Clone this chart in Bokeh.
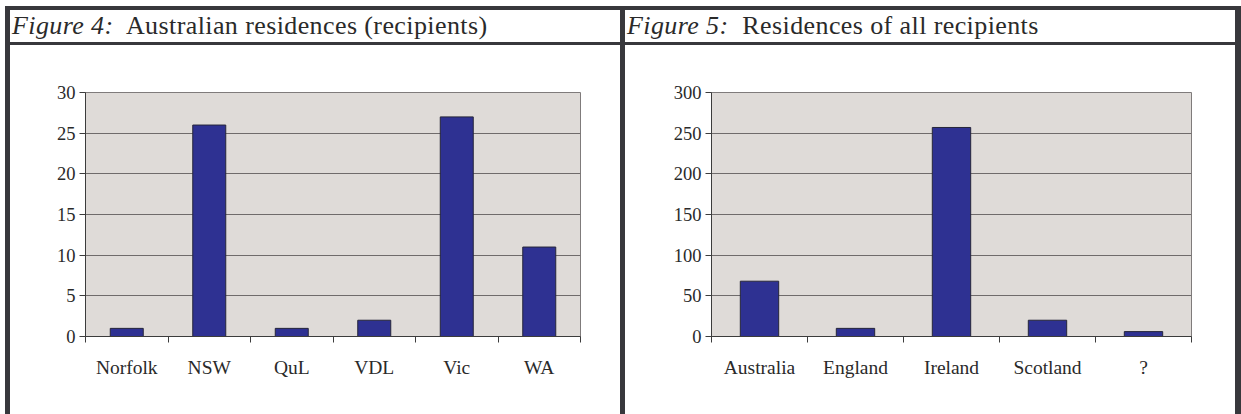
from bokeh.plotting import figure
from bokeh.models import Range1d, FixedTicker, Div, ColumnDataSource
from bokeh.layouts import row, column
from bokeh.embed import file_html
from bokeh.resources import INLINE

# ---- data ----
fig4_label = "Figure 4:"
fig4_title = "Australian residences (recipients)"
fig4_cats = ["Norfolk", "NSW", "QuL", "VDL", "Vic", "WA"]
fig4_vals = [1, 26, 1, 2, 27, 11]
fig4_yticks = [0, 5, 10, 15, 20, 25, 30]

fig5_label = "Figure 5:"
fig5_title = "Residences of all recipients"
fig5_cats = ["Australia", "England", "Ireland", "Scotland", "?"]
fig5_vals = [68, 10, 257, 20, 6]
fig5_yticks = [0, 50, 100, 150, 200, 250, 300]

DARK = "#38383c"
SERIF = "Liberation Serif"
TXT = "#2a2a2a"


def make_chart(cats, vals, yticks, w, h, left, right, top, bottom):
    n = len(cats)
    pos = [i + 0.5 for i in range(n)]  # slot centres of the categories
    p = figure(width=w, height=h,
               x_range=Range1d(0, n),
               y_range=Range1d(yticks[0], yticks[-1]),
               output_backend="svg", toolbar_location=None,
               min_border_left=left, min_border_right=right,
               min_border_top=top, min_border_bottom=bottom)
    p.background_fill_color = "#dfdbd8"
    p.border_fill_color = "white"
    p.outline_line_color = "#7f7b7b"
    p.outline_line_width = 1

    src = ColumnDataSource(dict(x=pos, cat=cats, val=vals))
    p.vbar(x="x", top="val", width=0.4, source=src,
           fill_color="#2e3192", line_color="#26263a", line_width=1)

    yax = p.yaxis[0]
    yax.ticker = FixedTicker(ticks=yticks)
    yax.minor_tick_line_color = None
    yax.major_tick_in = 0
    yax.major_tick_out = 6
    yax.axis_line_color = "#3c3c3c"
    yax.major_tick_line_color = "#3c3c3c"
    yax.major_label_text_font = SERIF
    yax.major_label_text_font_size = "18.5px"
    yax.major_label_text_color = TXT
    yax.major_label_standoff = 4

    p.ygrid.ticker = FixedTicker(ticks=yticks)
    p.ygrid.grid_line_color = "#6f6b6b"
    p.ygrid.grid_line_width = 1
    p.xgrid.visible = False

    xax = p.xaxis[0]
    xax.ticker = FixedTicker(ticks=pos, minor_ticks=list(range(n + 1)))
    xax.major_label_overrides = {x: c for x, c in zip(pos, cats)}
    xax.major_tick_in = 0
    xax.major_tick_out = 0
    xax.minor_tick_in = 0
    xax.minor_tick_out = 6
    xax.axis_line_color = "#3c3c3c"
    xax.minor_tick_line_color = "#3c3c3c"
    xax.major_label_text_font = SERIF
    xax.major_label_text_font_size = "19.5px"
    xax.major_label_text_color = TXT
    xax.major_label_standoff = 14
    return p


def block(w, h, color="white"):
    return Div(width=w, height=h, margin=0, styles={"background-color": color})


def header(label, title, w, h):
    html = ('<div style="font-family:\'Liberation Serif\';font-size:26px;line-height:%dpx;'
            'letter-spacing:0.4px;padding-left:2px;color:%s;white-space:nowrap;">'
            '<span style="font-style:italic">%s</span>&nbsp; %s</div>' % (h, TXT, label, title))
    return Div(text=html, width=w, height=h, margin=0)


p4 = make_chart(fig4_cats, fig4_vals, fig4_yticks, 610, 369, 75, 40, 45, 75)
p5 = make_chart(fig5_cats, fig5_vals, fig5_yticks, 610, 369, 86, 44, 47, 78)

layout = column(
    block(1241, 6),
    row(block(5, 4), block(1236, 4, DARK), spacing=0),
    row(block(5, 32), block(5, 32, DARK), header(fig4_label, fig4_title, 610, 32),
        block(5, 32, DARK), header(fig5_label, fig5_title, 610, 32), block(6, 32, DARK), spacing=0),
    row(block(5, 3), block(1236, 3, DARK), spacing=0),
    row(block(5, 369), block(5, 369, DARK), p4, block(5, 369, DARK), p5, block(6, 369, DARK), spacing=0),
    spacing=0,
)

open("out.html", "w").write(file_html(layout, INLINE))
